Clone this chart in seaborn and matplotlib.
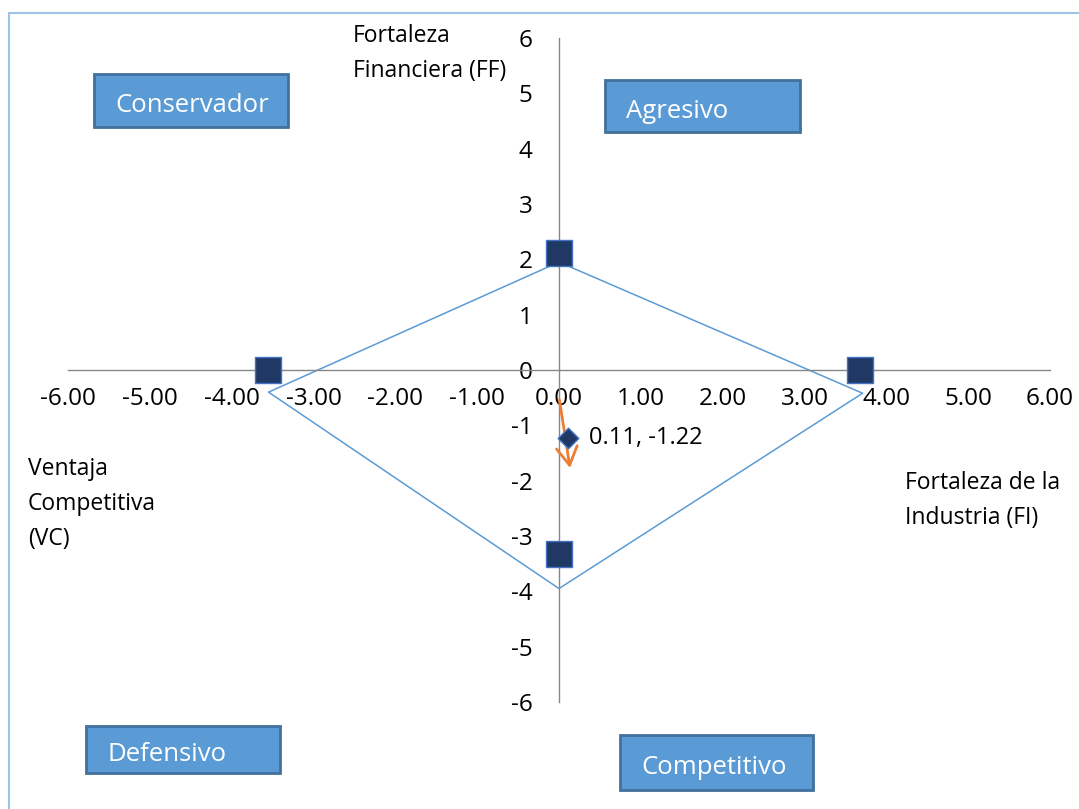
from typing import List

import matplotlib.pyplot as plt
import pandas as pd
import seaborn as sns
from matplotlib.lines import Line2D
from matplotlib.patches import Rectangle

# quadrant corner points (squares)
corner_x: List[float] = [0.0, -3.56, 3.68, 0.0]
corner_y: List[float] = [2.11, 0.0, 0.0, -3.33]

# polygon drawn through the axes
poly_x: List[float] = [0.0, 3.71, 0.0, -3.55, 0.0]
poly_y: List[float] = [1.95, -0.42, -3.95, -0.40, 1.95]

# resulting vector
vector_x: List[float] = [0.11]
vector_y: List[float] = [-1.22]

x_ticks: List[float] = [-6, -5, -4, -3, -2, -1, 0, 1, 2, 3, 4, 5, 6]
y_ticks: List[int] = [-6, -5, -4, -3, -2, -1, 0, 1, 2, 3, 4, 5, 6]

quadrants: List[str] = ["Conservador", "Agresivo", "Defensivo", "Competitivo"]

W, H = 1079, 809
FONT = "Open Sans"


def px(x: float, y: float):
    return x / W, 1 - y / H


def quadrant_box(fig, label: str, x0: float, y0: float, x1: float, y1: float) -> None:
    fx0, fy1 = px(x0, y0)
    fx1, fy0 = px(x1, y1)
    fig.patches.append(Rectangle((fx0, fy0), fx1 - fx0, fy1 - fy0, transform=fig.transFigure,
                                 facecolor="#5B9BD5", edgecolor="#41719C", lw=2, zorder=5))
    # text sits a little below the box centre, as in the original
    fig.text(fx0 + 21 / W, (fy0 + fy1) / 2 - 5 / H, label, color="white", fontsize=18.5, family=FONT,
             ha="left", va="center", zorder=6)


sns.set_style("white")
plt.rcParams["font.family"] = [FONT, "DejaVu Sans"]
plt.rcParams["text.color"] = "black"

fig = plt.figure(figsize=(W / 100, H / 100), dpi=100)
ax = fig.add_axes([68 / W, 107 / H, (1050 - 68) / W, (771 - 107) / H])
ax.set_xlim(-6, 6)
ax.set_ylim(-6, 6)

poly = pd.DataFrame({"x": poly_x, "y": poly_y})
sns.lineplot(data=poly, x="x", y="y", sort=False, estimator=None, color="#5B9BD5", lw=1.1, ax=ax)

corners = pd.DataFrame({"x": corner_x, "y": corner_y})
sns.scatterplot(data=corners, x="x", y="y", marker="s", s=330, color="#1F3864",
                edgecolor="#4472C4", linewidth=1, zorder=4, ax=ax)

vec = pd.DataFrame({"x": vector_x, "y": vector_y})
sns.scatterplot(data=vec, x="x", y="y", marker="D", s=110, color="#1F3864",
                edgecolor="#4472C4", linewidth=1, zorder=4, ax=ax)
ax.annotate(f"{vector_x[0]:.2f}, {vector_y[0]:.2f}", (vector_x[0], vector_y[0]),
            xytext=(15, 0), textcoords="offset points", va="center", ha="left", fontsize=17)

# orange arrow
ax.annotate("", xy=(0.14, -1.82), xytext=(0.0, -0.49),
            arrowprops=dict(arrowstyle="->,head_length=1.3,head_width=0.75", color="#ED7D31", lw=2))

for side in ["top", "right"]:
    ax.spines[side].set_visible(False)
for side in ["left", "bottom"]:
    ax.spines[side].set_position(("data", 0))
    ax.spines[side].set_color("#868686")
    ax.spines[side].set_linewidth(1)
ax.set_xticks(x_ticks)
ax.set_xticklabels([f"{t:.2f}" for t in x_ticks])
ax.set_yticks(y_ticks)
ax.set_yticklabels([str(t) for t in y_ticks])
ax.tick_params(axis="x", length=0, pad=12, labelsize=17.5, labelcolor="black")
ax.tick_params(axis="y", length=0, pad=19, labelsize=17.5, labelcolor="black")
ax.set_xlabel("")
ax.set_ylabel("")

# axis titles
fig.text(*px(353, 24), "Fortaleza\nFinanciera (FF)", fontsize=16.5, va="top", ha="left", linespacing=1.6)
fig.text(*px(28, 457), "Ventaja\nCompetitiva\n(VC)", fontsize=16.5, va="top", ha="left", linespacing=1.6)
fig.text(*px(905, 471), "Fortaleza de la\nIndustria (FI)", fontsize=16.5, va="top", ha="left", linespacing=1.6)

# quadrant boxes
quadrant_box(fig, quadrants[0], 94, 74, 288, 127)
quadrant_box(fig, quadrants[1], 605, 80, 800, 132)
quadrant_box(fig, quadrants[2], 86, 726, 280, 773)
quadrant_box(fig, quadrants[3], 620, 735, 813, 790)

# chart area border
fig.lines.append(Line2D([9 / W, 9 / W], [0, 1 - 13 / H], transform=fig.transFigure, color="#9DC3E6", lw=1.5))
fig.lines.append(Line2D([9 / W, 1], [1 - 13 / H, 1 - 13 / H], transform=fig.transFigure, color="#9DC3E6", lw=1.5))

fig.savefig("out.png", dpi=100)
